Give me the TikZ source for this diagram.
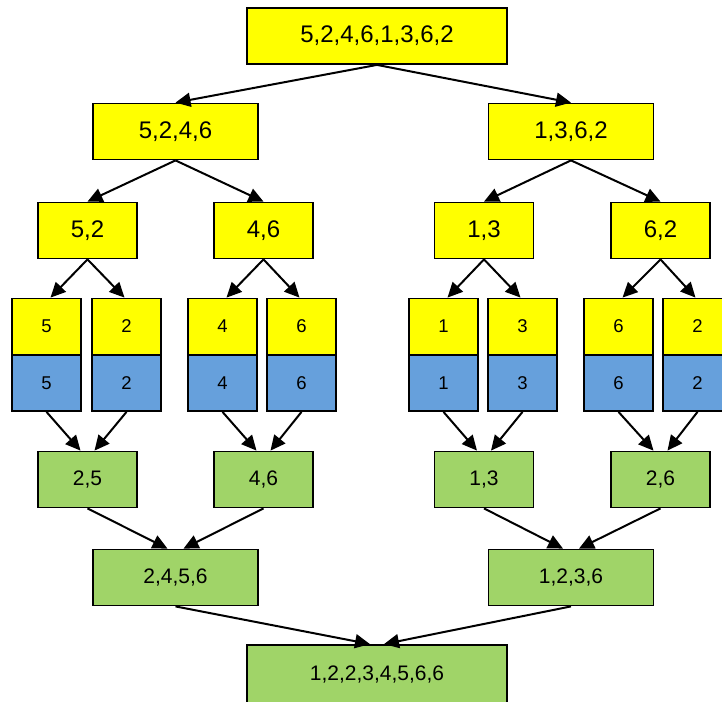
\documentclass[tikz,border=0pt]{standalone}
\usepackage{fontspec}
\setmainfont{Liberation Sans}
\definecolor{msyellow}{HTML}{FFFF00}
\definecolor{msblue}{HTML}{66A0DC}
\definecolor{msgreen}{HTML}{A0D468}
\usetikzlibrary{arrows.meta,positioning}

\begin{document}
\begin{tikzpicture}[
  x=1pt, y=-1pt,
  box/.style={draw=black, line width=1.8pt, inner sep=0pt, minimum height=56pt},
  split/.style={box, fill=msyellow, font=\fontsize{24}{28}\selectfont},
  leaf/.style={box, minimum width=69pt, font=\fontsize{18.5}{22}\selectfont},
  merged/.style={box, fill=msgreen, font=\fontsize{21}{25}\selectfont},
  arr/.style={-{Triangle[length=15pt,width=14pt]}, line width=2pt}
]
  \useasboundingbox (0,0) rectangle (722,701);

  % splitting
  \node[split, minimum width=260pt] (all) at (377,36) {5,2,4,6,1,3,6,2};
  \node[split, minimum width=165pt] (l) at (175.5,131.5) {5,2,4,6};
  \node[split, minimum width=165pt] (r) at (571,131.5) {1,3,6,2};
  \node[split, minimum width=99pt] (ll) at (87.5,230.5) {5,2};
  \node[split, minimum width=99pt] (lr) at (263.5,230.5) {4,6};
  \node[split, minimum width=99pt] (rl) at (484,230.5) {1,3};
  \node[split, minimum width=99pt] (rr) at (660.5,230.5) {6,2};

  % single elements
  \node[leaf, fill=msyellow] (y1) at (46.5,326.5) {5};
  \node[leaf, fill=msyellow] (y2) at (126.5,326.5) {2};
  \node[leaf, fill=msyellow] (y3) at (222.5,326.5) {4};
  \node[leaf, fill=msyellow] (y4) at (301.5,326.5) {6};
  \node[leaf, fill=msyellow] (y5) at (443.5,326.5) {1};
  \node[leaf, fill=msyellow] (y6) at (522.5,326.5) {3};
  \node[leaf, fill=msyellow] (y7) at (618.5,326.5) {6};
  \node[leaf, fill=msyellow] (y8) at (697.5,326.5) {2};
  \node[leaf, fill=msblue] (b1) at (46.5,383) {5};
  \node[leaf, fill=msblue] (b2) at (126.5,383) {2};
  \node[leaf, fill=msblue] (b3) at (222.5,383) {4};
  \node[leaf, fill=msblue] (b4) at (301.5,383) {6};
  \node[leaf, fill=msblue] (b5) at (443.5,383) {1};
  \node[leaf, fill=msblue] (b6) at (522.5,383) {3};
  \node[leaf, fill=msblue] (b7) at (618.5,383) {6};
  \node[leaf, fill=msblue] (b8) at (697.5,383) {2};

  % merging
  \node[merged, minimum width=99pt] (g1) at (87.5,479.5) {2,5};
  \node[merged, minimum width=99pt] (g2) at (263.5,479.5) {4,6};
  \node[merged, minimum width=99pt] (g3) at (484,479.5) {1,3};
  \node[merged, minimum width=99pt] (g4) at (660.5,479.5) {2,6};
  \node[merged, minimum width=165pt] (gl) at (175.5,577.5) {2,4,5,6};
  \node[merged, minimum width=165pt] (gr) at (571,577.5) {1,2,3,6};
  \node[merged, minimum width=260pt, minimum height=60pt] (sorted) at (377,675) {1,2,2,3,4,5,6,6};

  \draw[arr] (all.south) -- (l.north);
  \draw[arr] (all.south) -- (r.north);
  \draw[arr] (l.south) -- (ll.north);
  \draw[arr] (l.south) -- (lr.north);
  \draw[arr] (r.south) -- (rl.north);
  \draw[arr] (r.south) -- (rr.north);

  \draw[arr] (ll.south) -- ([xshift=4pt]y1.north);
  \draw[arr] (ll.south) -- ([xshift=-2pt]y2.north);
  \draw[arr] (lr.south) -- ([xshift=4pt]y3.north);
  \draw[arr] (lr.south) -- ([xshift=-2pt]y4.north);
  \draw[arr] (rl.south) -- ([xshift=4pt]y5.north);
  \draw[arr] (rl.south) -- ([xshift=-2pt]y6.north);
  \draw[arr] (rr.south) -- ([xshift=4pt]y7.north);
  \draw[arr] (rr.south) -- ([xshift=-2pt]y8.north);

  \draw[arr] (b1.south) -- ([xshift=-7pt]g1.north);
  \draw[arr] (b2.south) -- ([xshift=7pt]g1.north);
  \draw[arr] (b3.south) -- ([xshift=-7pt]g2.north);
  \draw[arr] (b4.south) -- ([xshift=7pt]g2.north);
  \draw[arr] (b5.south) -- ([xshift=-7pt]g3.north);
  \draw[arr] (b6.south) -- ([xshift=7pt]g3.north);
  \draw[arr] (b7.south) -- ([xshift=-7pt]g4.north);
  \draw[arr] (b8.south) -- ([xshift=7pt]g4.north);

  \draw[arr] (g1.south) -- ([xshift=-8pt]gl.north);
  \draw[arr] (g2.south) -- ([xshift=8pt]gl.north);
  \draw[arr] (g3.south) -- ([xshift=-8pt]gr.north);
  \draw[arr] (g4.south) -- ([xshift=8pt]gr.north);
  \draw[arr] (gl.south) -- ([xshift=-7pt]sorted.north);
  \draw[arr] (gr.south) -- ([xshift=7pt]sorted.north);
\end{tikzpicture}
\end{document}
